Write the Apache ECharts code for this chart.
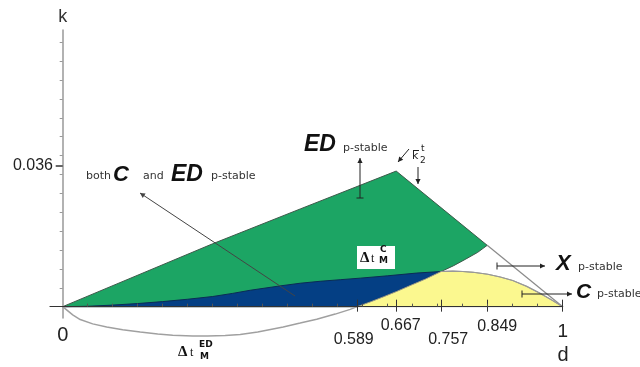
<!DOCTYPE html>
<html><head><meta charset="utf-8">
<script src="https://cdn.jsdelivr.net/npm/echarts@6/dist/echarts.min.js"></script>
<style>html,body{margin:0;padding:0;background:#fff}#c{width:640px;height:367px}</style>
</head><body><div id="c"></div>
<script>
// ---- data ----
const xTickValues = [0, 0.589, 0.667, 0.757, 0.849, 1];
const xTickText = ['0', '0.589', '0.667', '0.757', '0.849', '1'];
const xMinorTicks = [0.05, 0.1, 0.15, 0.2, 0.25, 0.3, 0.35, 0.4, 0.45, 0.5, 0.55, 0.6, 0.65, 0.7, 0.75, 0.8, 0.85, 0.9, 0.95];
const yTickValues = [0.036];
const yTickText = ['0.036'];
const yMinorTicks = [0.0048, 0.0097, 0.0145, 0.0193, 0.0242, 0.0290, 0.0338, 0.0387, 0.0435, 0.0483, 0.0532, 0.0580, 0.0628, 0.0677];
// upper edge of ED p-stable region (k bar)
const kTop = [[0, 0], [0.3, 0.0161], [0.475, 0.0250], [0.667, 0.0347]];
// straight boundary from peak to d = 1
const kRight = [[0.667, 0.0347], [0.849, 0.0157], [1, 0]];
// Δt_M^ED curve
const deltaED = [[0, 0], [0.02, -0.0021], [0.035, -0.0033], [0.06, -0.0044], [0.088, -0.0052], [0.12, -0.0059], [0.155, -0.0065], [0.19, -0.0070], [0.22, -0.0073], [0.26, -0.0075], [0.29, -0.0075], [0.325, -0.0074], [0.355, -0.0071], [0.39, -0.0065], [0.441, -0.0052], [0.475, -0.0042], [0.508, -0.0032], [0.545, -0.0019], [0.575, -0.0007], [0.589, 0], [0.615, 0.0012], [0.641, 0.0025], [0.668, 0.0039], [0.695, 0.0054], [0.726, 0.0071], [0.757, 0.0090], [0.782, 0.0105], [0.805, 0.0121], [0.83, 0.0139], [0.849, 0.0157]];
// Δt_M^C curve
const deltaC = [[0, 0], [0.05, 0.0001], [0.1, 0.0004], [0.15, 0.0008], [0.2, 0.0013], [0.25, 0.0019], [0.3, 0.0026], [0.34, 0.0034], [0.375, 0.0042], [0.434, 0.0053], [0.475, 0.0060], [0.515, 0.0065], [0.555, 0.0069], [0.595, 0.0073], [0.65, 0.0079], [0.708, 0.0086], [0.757, 0.0090], [0.78, 0.0091], [0.80, 0.0090], [0.821, 0.0088], [0.85, 0.0083], [0.875, 0.0076], [0.9, 0.0067], [0.928, 0.0052], [0.955, 0.0034], [0.978, 0.0017], [1, 0]];

// ---- helpers ----
function slice(arr, a, b) { return arr.filter(p => p[0] >= a - 1e-9 && p[0] <= b + 1e-9); }
const greenPoly = kTop.concat([kRight[1]], slice(deltaED, 0.589, 0.849).reverse());
const bluePoly = slice(deltaC, 0, 0.757).concat(slice(deltaED, 0.589, 0.757).reverse());
const yellowPoly = slice(deltaED, 0.589, 0.757).concat(slice(deltaC, 0.757, 1).slice(1));

function polySeries(points, fill, stroke, z) {
  return {
    type: 'custom', coordinateSystem: 'cartesian2d', silent: true, z: z,
    data: [points[0]],
    renderItem: function (params, api) {
      return { type: 'polygon', shape: { points: points.map(p => api.coord(p)) },
        style: { fill: fill, stroke: stroke, lineWidth: 1 } };
    }
  };
}
function lineSeries(points, color, width, z) {
  return { type: 'line', data: points, showSymbol: false, symbol: 'none', clip: false, silent: true, z: z,
    lineStyle: { color: color, width: width } };
}

const SANS = '"Liberation Sans", Arial, sans-serif';
const SMALL = '"DejaVu Sans", Verdana, sans-serif';

function txt(x, y, text, font, fill, align) {
  return { type: 'text', x: x, y: y, z: 50,
    style: { text: text, font: font, fill: fill || '#222', align: align || 'left', verticalAlign: 'middle',
      textAlign: align || 'left', textVerticalAlign: 'middle' } };
}
function arrow(x1, y1, x2, y2, tbar, color) {
  color = color || '#222';
  const els = [{ type: 'line', z: 50, shape: { x1: x1, y1: y1, x2: x2, y2: y2 }, style: { stroke: color, lineWidth: 1 } }];
  const dx = x2 - x1, dy = y2 - y1, L = Math.hypot(dx, dy), ux = dx / L, uy = dy / L;
  const hl = 5, hw = 2.6;
  els.push({ type: 'polygon', z: 50, shape: { points: [[x2, y2], [x2 - ux * hl - uy * hw, y2 - uy * hl + ux * hw], [x2 - ux * hl + uy * hw, y2 - uy * hl - ux * hw]] }, style: { fill: color } });
  if (tbar) {
    els.push({ type: 'line', z: 50, shape: { x1: x1 - uy * 3.5, y1: y1 + ux * 3.5, x2: x1 + uy * 3.5, y2: y1 - ux * 3.5 }, style: { stroke: color, lineWidth: 1 } });
  }
  return els;
}

const XMIN = -0.0254, XMAX = 1, YMIN = -0.0029, YMAX = 0.0708;

const xLabelRich = {
  l0: { fontSize: 20, fontFamily: SANS, color: '#222', padding: [9, 0, 0, 0] },
  l1: { fontSize: 16, fontFamily: SANS, color: '#222', padding: [16, 7, 0, 0] },
  l2: { fontSize: 16, fontFamily: SANS, color: '#222', padding: [2, 0, 0, 9] },
  l3: { fontSize: 16, fontFamily: SANS, color: '#222', padding: [16, 0, 0, 14] },
  l4: { fontSize: 16, fontFamily: SANS, color: '#222', padding: [3, 0, 0, 20] },
  l5: { fontSize: 19, fontFamily: SANS, color: '#222', padding: [6, 0, 0, 0] }
};

const graphics = [].concat(
  [txt(86, 176, 'both', '11px ' + SMALL, '#333'),
   txt(113, 175, 'C', 'italic bold 22px ' + SANS, '#111'),
   txt(143, 176, 'and', '11px ' + SMALL, '#333'),
   txt(171, 175, 'ED', 'italic bold 23px ' + SANS, '#111'),
   txt(211, 176, 'p-stable', '11px ' + SMALL, '#333'),
   txt(304, 145, 'ED', 'italic bold 23px ' + SANS, '#111'),
   txt(343, 148, 'p-stable', '11px ' + SMALL, '#333'),
   txt(556, 264, 'X', 'italic bold 22px ' + SANS, '#111'),
   txt(578, 267, 'p-stable', '11px ' + SMALL, '#333'),
   txt(576, 292, 'C', 'italic bold 21px ' + SANS, '#111'),
   txt(597, 294, 'p-stable', '11px ' + SMALL, '#333'),
   // k bar 2 t
   txt(412, 156, 'k', '11px ' + SMALL, '#222'),
   { type: 'line', z: 50, shape: { x1: 413, y1: 150.5, x2: 419, y2: 150.5 }, style: { stroke: '#222', lineWidth: 1 } },
   txt(421, 149, 't', '9px ' + SMALL, '#222'),
   txt(420, 161, '2', '9px ' + SMALL, '#222'),
   // Δt_M^C box
   { type: 'rect', z: 48, shape: { x: 357, y: 246, width: 38, height: 23 }, style: { fill: '#fff' } },
   txt(360, 258, 'Δ', 'bold 15px "Liberation Serif", serif', '#111'),
   txt(371, 259, 't', '12px "Liberation Serif", serif', '#111'),
   txt(380, 250, 'C', 'bold 9px ' + SMALL, '#111'),
   txt(379, 261, 'M', 'bold 9px ' + SMALL, '#111'),
   // Δt_M^ED
   txt(178, 352, 'Δ', 'bold 15px "Liberation Serif", serif', '#111'),
   txt(190, 353, 't', '12px "Liberation Serif", serif', '#111'),
   txt(199, 345, 'ED', 'bold 9px ' + SMALL, '#111'),
   txt(200, 357, 'M', 'bold 9px ' + SMALL, '#111'),
   txt(563, 355, 'd', '20px ' + SANS, '#222', 'center')
  ],
  arrow(295, 296, 140, 193, false, '#444'),
  arrow(360, 198, 360, 158, true),
  arrow(409, 149, 398, 162, false),
  arrow(418, 167, 418, 184, false),
  arrow(497, 266, 545, 266, true),
  arrow(522, 294, 572, 294, true)
);

const chart = echarts.init(document.getElementById('c'), null, { renderer: 'canvas' });
chart.setOption({
  animation: false,
  backgroundColor: '#fff',
  grid: { left: 50, right: 77.3, top: 30, bottom: 49, containLabel: false },
  xAxis: [
    { type: 'value', min: XMIN, max: XMAX, position: 'bottom', z: 10,
      axisLine: { onZero: true, onZeroAxisIndex: 0, lineStyle: { color: '#333', width: 1.2 } },
      axisTick: { show: true, customValues: xTickValues.slice(1), length: 5, inside: false, lineStyle: { color: '#333' } },
      axisLabel: { show: true, customValues: xTickValues, margin: -2,
        formatter: function (v) { const i = xTickValues.findIndex(t => Math.abs(t - v) < 1e-6); return i < 0 ? '' : '{l' + i + '|' + xTickText[i] + '}'; },
        rich: xLabelRich },
      splitLine: { show: false } },
    { type: 'value', min: XMIN, max: XMAX, position: 'bottom', z: 10,
      axisLine: { show: false, onZero: true, onZeroAxisIndex: 0 },
      axisTick: { show: true, customValues: xTickValues.slice(1), length: 7, inside: true, lineStyle: { color: '#333' } },
      axisLabel: { show: false }, splitLine: { show: false } },
    { type: 'value', min: XMIN, max: XMAX, position: 'bottom', z: 10,
      axisLine: { show: false, onZero: true, onZeroAxisIndex: 0 },
      axisTick: { show: true, customValues: xMinorTicks, length: 3, inside: true, lineStyle: { color: '#555' } },
      axisLabel: { show: false }, splitLine: { show: false } }
  ],
  yAxis: [
    { type: 'value', min: YMIN, max: YMAX, position: 'left', z: 10,
      name: 'k', nameLocation: 'end', nameGap: 4,
      nameTextStyle: { fontSize: 18, fontFamily: SANS, color: '#333' },
      axisLine: { onZero: true, onZeroAxisIndex: 0, lineStyle: { color: '#999', width: 1.5 } },
      axisTick: { show: true, customValues: yTickValues, length: 7, inside: false, lineStyle: { color: '#333', width: 1.5 } },
      axisLabel: { show: true, customValues: yTickValues, margin: -3, fontSize: 16, fontFamily: SANS, color: '#222',
        formatter: function (v) { const i = yTickValues.findIndex(t => Math.abs(t - v) < 1e-7); return i < 0 ? '' : yTickText[i]; } },
      splitLine: { show: false } },
    { type: 'value', min: YMIN, max: YMAX, position: 'left', z: 10,
      axisLine: { show: false, onZero: true, onZeroAxisIndex: 0 },
      axisTick: { show: true, customValues: yMinorTicks, length: 3, inside: false, lineStyle: { color: '#999' } },
      axisLabel: { show: false }, splitLine: { show: false } }
  ],
  series: [
    polySeries(greenPoly, '#1ca564', '#3d5a4a', 2),
    polySeries(bluePoly, '#043f84', '#0b2b55', 3),
    polySeries(yellowPoly, '#fbf88f', '#9a9a8a', 4),
    lineSeries(slice(deltaED, 0, 0.589), '#a0a0a0', 1.5, 5),
    lineSeries(slice(kRight, 0.849, 1), '#8a8a8a', 1.2, 5),
    lineSeries(slice(deltaC, 0.757, 1), '#999999', 1.2, 5)
  ],
  graphic: { elements: graphics }
});
</script>
</body></html>
